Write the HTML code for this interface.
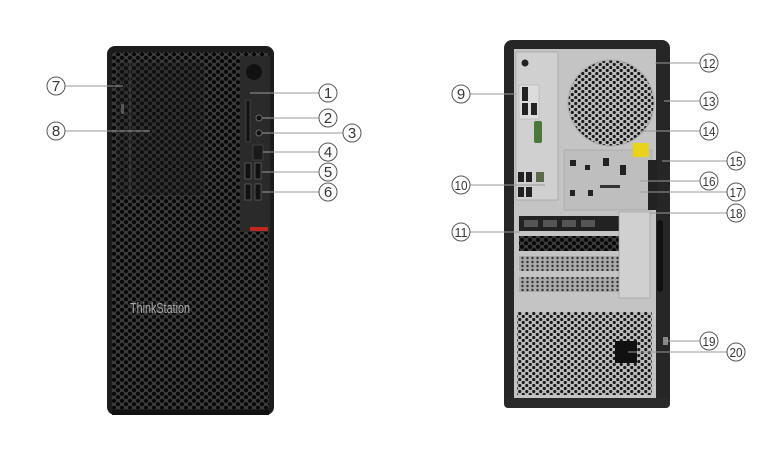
<!DOCTYPE html>
<html><head><meta charset="utf-8"><style>
html,body{margin:0;padding:0;background:#fff;}
svg{display:block;}
text{font-family:"Liberation Sans",sans-serif;font-size:15px;fill:#333;}
</style></head><body>
<svg width="777" height="457" viewBox="0 0 777 457" xmlns="http://www.w3.org/2000/svg">
<defs>
<pattern id="hexd" width="8" height="7" patternUnits="userSpaceOnUse">
<rect width="8" height="7" fill="#3a3a3a"/>
<circle cx="2" cy="1.75" r="2.1" fill="#080808"/>
<circle cx="6" cy="5.25" r="2.1" fill="#080808"/>
</pattern>
<pattern id="hexl" width="7" height="6" patternUnits="userSpaceOnUse">
<rect width="7" height="6" fill="#bdbdbd"/>
<circle cx="1.75" cy="1.5" r="1.6" fill="#1a1a1a"/>
<circle cx="5.25" cy="4.5" r="1.6" fill="#1a1a1a"/>
</pattern>
<pattern id="perf" width="5" height="4" patternUnits="userSpaceOnUse">
<rect width="5" height="4" fill="#aaa"/>
<circle cx="2.5" cy="2" r="1.2" fill="#333"/>
</pattern>
</defs>

<!-- FRONT -->
<rect x="107" y="46" width="167" height="369" rx="8" fill="#1c1c1c"/>
<rect x="112" y="52" width="157" height="358" rx="4" fill="url(#hexd)"/>
<rect x="117" y="62" width="88" height="134" fill="#1d1d1d" opacity="0.35" stroke="#444" stroke-width="1"/>
<line x1="130" y1="62" x2="130" y2="196" stroke="#444"/>
<rect x="121" y="104" width="3" height="10" fill="#555"/>
<rect x="240" y="56" width="30" height="176" fill="#2a2a2a"/>
<circle cx="254" cy="72" r="8" fill="#111"/>
<rect x="246" y="100" width="4" height="42" fill="#111" stroke="#555" stroke-width="0.6"/>
<circle cx="259" cy="118" r="3" fill="#111" stroke="#666"/>
<circle cx="259" cy="133" r="3" fill="#111" stroke="#666"/>
<rect x="253" y="145" width="10" height="15" fill="#1a1a1a" stroke="#555" stroke-width="0.6"/>
<rect x="245" y="163" width="6" height="16" fill="#111" stroke="#777" stroke-width="0.6"/>
<rect x="255" y="163" width="6" height="16" fill="#111" stroke="#777" stroke-width="0.6"/>
<rect x="245" y="184" width="6" height="16" fill="#111" stroke="#777" stroke-width="0.6"/>
<rect x="255" y="184" width="6" height="16" fill="#111" stroke="#777" stroke-width="0.6"/>
<rect x="250" y="227" width="18" height="4" fill="#c0281f"/>
<text x="130" y="313" style="font-size:15px;fill:#aaa" textLength="60" lengthAdjust="spacingAndGlyphs">ThinkStation</text>
<rect x="112" y="410" width="157" height="5" fill="#111"/>

<!-- FRONT LABELS -->
<g stroke="#999" stroke-width="1" fill="none">
<line x1="65" y1="86" x2="123" y2="86"/>
<line x1="65" y1="131" x2="150" y2="131"/>
<line x1="319" y1="93" x2="250" y2="93"/>
<line x1="319" y1="118" x2="262" y2="118"/>
<line x1="343" y1="133" x2="262" y2="133"/>
<line x1="319" y1="152" x2="263" y2="152"/>
<line x1="319" y1="172" x2="262" y2="172"/>
<line x1="319" y1="192" x2="262" y2="192"/>
</g>
<g fill="#fff" stroke="#555" stroke-width="1">
<circle cx="56" cy="86" r="9"/><circle cx="56" cy="131" r="9"/>
<circle cx="328" cy="93" r="9"/><circle cx="328" cy="118" r="9"/>
<circle cx="352" cy="133" r="9"/><circle cx="328" cy="152" r="9"/>
<circle cx="328" cy="172" r="9"/><circle cx="328" cy="192" r="9"/>
</g>
<g text-anchor="middle">
<text x="56" y="91">7</text><text x="56" y="136">8</text>
<text x="328" y="98">1</text><text x="328" y="123">2</text>
<text x="352" y="138">3</text><text x="328" y="157">4</text>
<text x="328" y="177">5</text><text x="328" y="197">6</text>
</g>

<!-- BACK -->
<rect x="504" y="40" width="166" height="368" rx="8" fill="#262626"/>
<rect x="514" y="49" width="142" height="349" fill="#c4c4c4"/>
<rect x="516" y="52" width="42" height="148" fill="#d0d0d0" stroke="#999" stroke-width="0.6"/>
<rect x="519" y="85" width="20" height="34" fill="#dcdcdc" stroke="#aaa" stroke-width="0.5"/>
<rect x="522" y="87" width="6" height="14" fill="#222"/>
<rect x="522" y="103" width="6" height="12" fill="#222"/>
<rect x="531" y="103" width="6" height="12" fill="#222"/>
<rect x="534" y="121" width="8" height="22" rx="2" fill="#4a7a3a"/>
<circle cx="525" cy="63" r="3.5" fill="#222"/>
<rect x="518" y="172" width="6" height="10" fill="#222"/><rect x="526" y="172" width="6" height="10" fill="#222"/>
<rect x="518" y="187" width="6" height="10" fill="#222"/><rect x="526" y="187" width="6" height="10" fill="#222"/>
<rect x="536" y="172" width="8" height="10" fill="#5a6a4a"/>
<circle cx="611" cy="103" r="43" fill="url(#hexl)"/>
<circle cx="611" cy="103" r="43" fill="none" stroke="#aaa"/>
<rect x="564" y="150" width="88" height="60" fill="#bebebe" stroke="#999" stroke-width="0.5"/>
<rect x="633" y="143" width="16" height="14" fill="#e8d21a"/>
<rect x="648" y="160" width="9" height="50" fill="#222"/>
<rect x="570" y="160" width="6" height="6" fill="#222"/><rect x="585" y="165" width="5" height="5" fill="#222"/>
<rect x="603" y="158" width="6" height="8" fill="#222"/><rect x="620" y="165" width="6" height="10" fill="#222"/>
<rect x="570" y="190" width="5" height="6" fill="#222"/><rect x="588" y="190" width="5" height="6" fill="#222"/>
<rect x="600" y="185" width="20" height="3" fill="#333"/>
<rect x="519" y="216" width="100" height="15" fill="#222"/>
<rect x="524" y="220" width="14" height="7" fill="#555"/><rect x="543" y="220" width="14" height="7" fill="#555"/>
<rect x="562" y="220" width="14" height="7" fill="#555"/><rect x="581" y="220" width="14" height="7" fill="#555"/>
<rect x="519" y="236" width="100" height="15" fill="url(#hexd)"/>
<rect x="519" y="256" width="100" height="15" fill="url(#perf)"/>
<rect x="519" y="277" width="100" height="15" fill="url(#perf)"/>
<rect x="619" y="212" width="31" height="86" fill="#d0d0d0" stroke="#999" stroke-width="0.6"/>
<rect x="657" y="220" width="6" height="72" rx="3" fill="#111"/>
<rect x="517" y="312" width="135" height="83" fill="url(#hexl)"/>
<rect x="615" y="341" width="22" height="22" fill="#111"/>
<rect x="663" y="337" width="5" height="8" fill="#888"/>
<rect x="504" y="398" width="166" height="10" rx="4" fill="#2a2a2a"/>

<!-- BACK LABELS -->
<g stroke="#999" stroke-width="1" fill="none">
<line x1="470" y1="94" x2="516" y2="94"/>
<line x1="470" y1="185" x2="545" y2="185"/>
<line x1="470" y1="232" x2="520" y2="232"/>
<line x1="700" y1="63" x2="655" y2="63"/>
<line x1="700" y1="101" x2="664" y2="101"/>
<line x1="700" y1="131" x2="640" y2="131"/>
<line x1="727" y1="161" x2="662" y2="161"/>
<line x1="700" y1="181" x2="640" y2="181"/>
<line x1="727" y1="192" x2="640" y2="192"/>
<line x1="727" y1="213" x2="650" y2="213"/>
<line x1="700" y1="341" x2="666" y2="341"/>
<line x1="727" y1="352" x2="628" y2="352"/>
</g>
<g fill="#fff" stroke="#555" stroke-width="1">
<circle cx="461" cy="94" r="9"/><circle cx="461" cy="185" r="9"/><circle cx="461" cy="232" r="9"/>
<circle cx="709" cy="63" r="9"/><circle cx="709" cy="101" r="9"/><circle cx="709" cy="131" r="9"/>
<circle cx="736" cy="161" r="9"/><circle cx="709" cy="181" r="9"/><circle cx="736" cy="192" r="9"/>
<circle cx="736" cy="213" r="9"/><circle cx="709" cy="341" r="9"/><circle cx="736" cy="352" r="9"/>
</g>
<g text-anchor="middle">
<text x="461" y="99">9</text>
<text x="461" y="190" style="font-size:13px" textLength="13" lengthAdjust="spacingAndGlyphs">10</text>
<text x="461" y="237" style="font-size:13px" textLength="13" lengthAdjust="spacingAndGlyphs">11</text>
<text x="709" y="68" style="font-size:13px" textLength="13" lengthAdjust="spacingAndGlyphs">12</text>
<text x="709" y="106" style="font-size:13px" textLength="13" lengthAdjust="spacingAndGlyphs">13</text>
<text x="709" y="136" style="font-size:13px" textLength="13" lengthAdjust="spacingAndGlyphs">14</text>
<text x="736" y="166" style="font-size:13px" textLength="13" lengthAdjust="spacingAndGlyphs">15</text>
<text x="709" y="186" style="font-size:13px" textLength="13" lengthAdjust="spacingAndGlyphs">16</text>
<text x="736" y="197" style="font-size:13px" textLength="13" lengthAdjust="spacingAndGlyphs">17</text>
<text x="736" y="218" style="font-size:13px" textLength="13" lengthAdjust="spacingAndGlyphs">18</text>
<text x="709" y="346" style="font-size:13px" textLength="13" lengthAdjust="spacingAndGlyphs">19</text>
<text x="736" y="357" style="font-size:13px" textLength="13" lengthAdjust="spacingAndGlyphs">20</text>
</g>
</svg>
</body></html>
